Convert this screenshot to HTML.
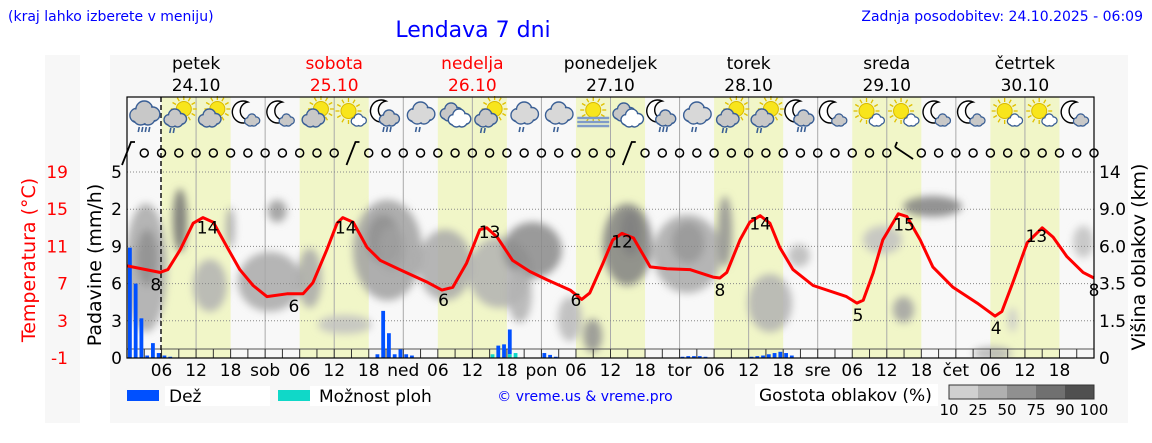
<!DOCTYPE html>
<html><head><meta charset="utf-8"><style>
body{margin:0;background:#fff;width:1152px;height:443px;overflow:hidden;font-family:"Liberation Sans","DejaVu Sans",sans-serif}
svg{position:absolute;left:0;top:0}
text{font-family:"DejaVu Sans","Liberation Sans",sans-serif}
</style></head><body>
<svg id="c" width="1152" height="443" xmlns="http://www.w3.org/2000/svg">
<defs><filter id="bl" x="-50%" y="-50%" width="200%" height="200%"><feGaussianBlur stdDeviation="4"/></filter>
<clipPath id="pc"><rect x="127" y="160" width="967" height="198"/></clipPath></defs>
<rect x="45" y="55" width="35" height="368" fill="#f7f7f7"/>
<rect x="110" y="55" width="1018" height="368" fill="#f7f7f7"/>
<text x="8" y="21" font-size="14" fill="#0000ff" font-family="Liberation Sans">(kraj lahko izberete v meniju)</text>
<text x="473" y="37" font-size="22" fill="#0000ff" text-anchor="middle" font-family="Liberation Sans">Lendava 7 dni</text>
<text x="1143" y="21" font-size="14" fill="#0000ff" text-anchor="end" font-family="Liberation Sans">Zadnja posodobitev: 24.10.2025 - 06:09</text>
<g id="g"></g>
</svg>
<script>
const tempHours=[0,5.7,7.1,9.2,11.5,13.2,15,17.4,19.6,21.9,24.3,27.8,30.6,32.3,34.7,36.5,37.5,39.3,41.7,44,47.4,52,54.7,56.6,59,61.3,62.5,64.3,67,70,73,77,79,80.4,82.7,84.4,86,88,90.9,93.8,97.8,101.8,103,104.2,106.5,108.2,110,111.7,113.4,115.7,119.2,125,126.8,127.9,129.6,131.3,134,135.5,137.8,140,143.5,147.7,150.8,152,153.9,156.4,159,160.9,163.3,166.1,168];
const tempValues=[8.9,8.2,8.5,10.6,13.5,14.1,13.6,10.9,8.5,6.8,5.6,5.9,5.9,7.1,10.6,13.5,14.1,13.6,10.9,9.5,8.5,7.2,6.3,6.6,9.2,12.8,13,12,9.5,8.3,7.4,6.3,5.3,6,9.2,11.7,12.4,11.9,8.8,8.6,8.5,7.7,7.6,8.2,11.7,13.6,14.3,13.5,10.9,8.5,6.8,5.6,4.9,5.2,8.1,11.7,14.5,14.2,11.7,8.8,6.6,4.9,3.5,4,7.1,11.4,13,12,9.9,8.2,7.6];
const tempLabelHours=[5,14,29,38,55,63,78,86,103,110,127,135,151,158,168];
const tempLabelValues=[8,14,6,14,6,13,6,12,8,14,5,15,4,13,8];
const tempLabelDy=[18,16,18,16,16,10,16,14,18,14,18,14,18,14,18];
const rainHours=[0,1,2,3,4,5,6,7,43,44,45,46,47,48,49,63,64,65,66,67,72,73,74,96,97,98,99,100,108,109,110,111,112,113,114,115];
const rainValues=[8.9,6.0,3.2,0.2,1.2,0.4,0.2,0.1,0.3,3.8,2.0,0.3,0.7,0.3,0.2,0,1.0,1.1,2.0,0,0.4,0.25,0.1,0.1,0.15,0.15,0.15,0.1,0.1,0.15,0.2,0.3,0.4,0.5,0.4,0.2];
const showerValues=[0,0,0,0,0,0,0,0,0,0,0,0,0,0,0,0.3,0,0,0.3,0.4,0,0,0,0,0,0,0,0,0,0,0,0,0,0,0,0];
const cloudH0=[0,8.3,11.8,17.5,19.6,24.8,30,33.5,39.6,50.9,59.6,65.7,66.5,75.2,79.6,83,91.7,103,108.2,115.2,135.2,128.2,133.4,147.3,164.7,153.4,2,42,44,86,95];
const cloudH1=[6.6,10.1,17,18.4,30,27.4,33.5,42.2,50.9,59.6,70,75.2,70,78.7,82.2,90.9,103,104.8,115.2,118.3,144.7,134.3,136.4,153.4,167.6,154.3,5,47,48,89,100];
const cloudLo=[0.75,2.9,1.3,3,1.3,3.7,1.4,0.7,1.6,1.6,1.4,2.2,1,0.5,0.2,2,1.8,2.5,0.75,2.5,3.85,2.85,1,0,2.75,0.75,2,2.6,2.4,2.8,2.6];
const cloudHi=[4.1,4.5,2.6,4,2.8,4.2,2.9,1.1,4.2,3.4,3.2,3.6,2.4,1.6,1,4.1,3.8,4.3,2.2,3,4.3,3.5,1.6,0.25,3.5,1.3,3.4,3.8,3.5,3.9,3.6];
const cloudDensity=[0.35,0.7,0.3,0.35,0.35,0.45,0.35,0.2,0.4,0.35,0.3,0.55,0.3,0.25,0.5,0.6,0.35,0.5,0.3,0.25,0.6,0.2,0.4,0.3,0.2,0.15,0.5,0.5,0.4,0.6,0.45];
const iconTypes=['cr','scr','sc','mc','mc','sc','ss','mcr','cl','c','scr','cl','cl','sf','c','mcr','cl','scr','scr','mcr','mc','ss','ss','mc','mc','ss','ss','mc'];
const windBarbHours=[0,39,87,135];
const dayNames=['petek','sobota','nedelja','ponedeljek','torek','sreda','četrtek'];
const dayDates=['24.10','25.10','26.10','27.10','28.10','29.10','30.10'];
const dayColors=['#000','#f00','#f00','#000','#000','#000','#000'];
const dayAbbr=['','sob','ned','pon','tor','sre','čet'];
const tempTicks=[19,15,11,7,3,-1];
const rainTickLabels=['5','2','9','6','3','0'];
const heightTickLabels=['14','9.0','6.0','3.5','1.5','0'];
const legendShades=['#d0d0d0','#b0b0b0','#909090','#707070','#505050'];
const legendLabels=['10','25','50','75','90','100'];

const L=127,R=1094,T=97,B=358;
const X=h=>L+h*(R-L)/168;
const YT=t=>B-(t+1)*(B-172)/20;
const YR=v=>B-v*(B-172)/15;
const YU=u=>B-u*(B-172)/5;
const NS='http://www.w3.org/2000/svg';
const g=document.getElementById('g');
function el(tag,attrs,parent,txt){const e=document.createElementNS(NS,tag);for(const k in attrs)e.setAttribute(k,attrs[k]);if(txt!==undefined)e.textContent=txt;(parent||g).appendChild(e);return e;}

let e=el('rect',{x:L,y:T,width:R-L,height:B-T,fill:'#f8f8f8'});


for(let d=0;d<7;d++){
 e=el('rect',{x:X(d*24+6),y:T,width:X(12)-X(0),height:B-T,fill:'#f1f6c8'});
 
 
}
for(let h=12;h<168;h+=12){
 e=el('line',{x1:X(h),x2:X(h),y1:T,y2:B,stroke:'#aaa','stroke-width':1});
 
 
}
const cg=el('g',{filter:'url(#bl)','clip-path':'url(#pc)'});


for(let i=0;i<cloudH0.length;i++){
 const c=Math.round(225-cloudDensity[i]*160);
 const x0=X(cloudH0[i]),x1=X(cloudH1[i]),y0=YU(cloudHi[i]),y1=YU(cloudLo[i]);
 e=el('ellipse',{cx:(x0+x1)/2,cy:(y0+y1)/2,rx:(x1-x0)/2+2,ry:(y1-y0)/2+2,fill:`rgb(${c},${c},${c})`,'fill-opacity':0.85},cg);
 
 
}
for(let i=0;i<5;i++){
 e=el('line',{x1:L,x2:R,y1:YU(5-i),y2:YU(5-i),stroke:'#888','stroke-width':1,'stroke-dasharray':'1,2'});
 
 
}
el('line',{x1:L,x2:R,y1:349,y2:349,stroke:'#555','stroke-width':1});
for(let i=0;i<rainHours.length;i++){
 const x=X(rainHours[i])+1,w=3.8;
 if(rainValues[i]>0){e=el('rect',{x:x,y:YR(rainValues[i]+showerValues[i]),width:w,height:YR(0)-YR(rainValues[i]),fill:'#0050ff'});
 
 }
 if(showerValues[i]>0){e=el('rect',{x:x,y:YR(showerValues[i]),width:w,height:YR(0)-YR(showerValues[i]),fill:'#10d8c8'});
 
 }
}
for(let h=3;h<168;h+=3){el('line',{x1:X(h),x2:X(h),y1:349,y2:B,stroke:'#333','stroke-width':1});}
e=el('line',{x1:161,x2:161,y1:T,y2:B,stroke:'#222','stroke-width':1.6,'stroke-dasharray':'5,3'});


let p='';tempHours.forEach((h,i)=>{p+=(i?'L':'M')+X(h).toFixed(1)+' '+YT(tempValues[i]).toFixed(1)});
e=el('path',{d:p,fill:'none',stroke:'#f00','stroke-width':3,'stroke-linejoin':'round'});


tempLabelHours.forEach((h,i)=>{
 let j=0,best=1e9;tempHours.forEach((th,k)=>{if(Math.abs(th-h)<best){best=Math.abs(th-h);j=k;}});
 e=el('text',{x:X(h),y:YT(tempValues[j])+tempLabelDy[i],'font-size':17,'text-anchor':'middle',fill:'#000'},g,String(tempLabelValues[i]));
 
 
});
for(let h=3;h<=168;h+=3){
 if(windBarbHours.includes(h))continue;
 e=el('circle',{cx:X(h),cy:153,r:4,fill:'none',stroke:'#000','stroke-width':1.5});
 
 
}
windBarbHours.forEach(h=>{const x=X(h);
 e=el('path',{d:h==135?`M${x-9} ${147}L${x+9} ${159}M${x-9} 147L${x-7} 142`:`M${x-5} 165L${x+4} 142L${x+8} 142`,stroke:'#000','stroke-width':1.8,fill:'none'});
 
 
});
function cloud(gg,cx,cy,s,fill){
 [[-6,2,6],[0,-3,7],[7,1,6],[3,4,6],[-3,4,6]].forEach(a=>el('circle',{cx:cx+a[0]*s,cy:cy+a[1]*s,r:a[2]*s,fill:fill,stroke:'#3a5f95','stroke-width':1.4},gg));
 [[-6,2,5],[0,-3,6],[7,1,5],[3,4,5],[-3,4,5]].forEach(a=>el('circle',{cx:cx+a[0]*s,cy:cy+a[1]*s,r:a[2]*s,fill:fill},gg));
}
function sun(gg,cx,cy){
 for(let a=0;a<12;a++){const t=a*Math.PI/6;el('line',{x1:cx+9*Math.cos(t),y1:cy+9*Math.sin(t),x2:cx+13*Math.cos(t),y2:cy+13*Math.sin(t),stroke:'#e0c000','stroke-width':1.3},gg);}
 el('circle',{cx:cx,cy:cy,r:7.5,fill:'#f8e51c',stroke:'#d8b800'},gg);
}
function moon(gg,cx,cy){el('path',{d:`M${cx+3} ${cy-11}A11 11 0 1 0 ${cx+6} ${cy+7}A9 9 0 1 1 ${cx+3} ${cy-11}Z`,fill:'#fff',stroke:'#000','stroke-width':1.4},gg);}
function rain(gg,cx,cy,n){for(let k=0;k<n;k++)el('line',{x1:cx-4+k*3.5,y1:cy,x2:cx-5+k*3.5,y2:cy+5,stroke:'#3a5f95','stroke-width':1.6},gg);}
iconTypes.forEach((t,k)=>{
 const cx=X(3+6*k),cy=115;
 const gg=el('g',{});
 
 
 if(t=='cr'){cloud(gg,cx,cy-2,1.2,'#c8c8c8');rain(gg,cx-1,cy+12,4);}
 else if(t=='scr'){sun(gg,cx+5,cy-6);cloud(gg,cx-4,cy+3,0.9,'#c8c8c8');rain(gg,cx-4,cy+13,2);}
 else if(t=='sc'){sun(gg,cx+4,cy-6);cloud(gg,cx-4,cy+3,0.9,'#c8c8c8');}
 else if(t=='ss'){sun(gg,cx-3,cy-4);cloud(gg,cx+7,cy+5,0.6,'#fff');}
 else if(t=='mc'){moon(gg,cx-3,cy-2);cloud(gg,cx+4,cy+5,0.6,'#c8c8c8');}
 else if(t=='mcr'){moon(gg,cx-3,cy-3);cloud(gg,cx+3,cy+3,0.8,'#c8c8c8');rain(gg,cx+2,cy+12,3);}
 else if(t=='cl'){cloud(gg,cx,cy-2,1.1,'#d8d8d8');rain(gg,cx,cy+12,2);}
 else if(t=='c'){cloud(gg,cx-4,cy-3,0.9,'#c8c8c8');cloud(gg,cx+4,cy+3,0.9,'#fff');}
 else if(t=='sf'){sun(gg,cx,cy-5);[0,4,8].forEach(d=>el('line',{x1:cx-16,x2:cx+16,y1:cy+3+d,y2:cy+3+d,stroke:'#7f9bc8','stroke-width':2.5},gg));}
});
e=el('rect',{x:L,y:T,width:R-L,height:B-T,fill:'none',stroke:'#000','stroke-width':1.2});


for(let d=0;d<7;d++){
 e=el('text',{x:X(d*24+12),y:69,'font-size':17,'text-anchor':'middle',fill:dayColors[d]},g,dayNames[d]);
 
 
 e=el('text',{x:X(d*24+12),y:91,'font-size':17,'text-anchor':'middle',fill:dayColors[d]},g,dayDates[d]);
 
 
}
for(let h=6;h<168;h+=6){
 const lab=h%24==0?dayAbbr[h/24]:String(h%24).padStart(2,'0');
 e=el('text',{x:X(h),y:376,'font-size':17,'text-anchor':'middle',fill:'#000'},g,lab);
 
 
}
tempTicks.forEach((t,i)=>{e=el('text',{x:68,y:YT(t)+6,'font-size':17,'text-anchor':'end',fill:'#f00'},g,String(t));
 
 });
rainTickLabels.forEach((t,i)=>{e=el('text',{x:122,y:YU(5-i)+6,'font-size':17,'text-anchor':'end',fill:'#000'},g,t);
 
 });
heightTickLabels.forEach((t,i)=>{e=el('text',{x:1099,y:YU(5-i)+6,'font-size':17,fill:'#000'},g,t);
 
 });
e=el('text',{x:0,y:0,'font-size':19,'text-anchor':'middle',fill:'#f00',transform:'translate(35,260) rotate(-90)'},g,'Temperatura (°C)');


e=el('text',{x:0,y:0,'font-size':19,'text-anchor':'middle',fill:'#000',transform:'translate(101,265) rotate(-90)'},g,'Padavine (mm/h)');


e=el('text',{x:0,y:0,'font-size':19,'text-anchor':'middle',fill:'#000',transform:'translate(1145,257) rotate(-90)'},g,'Višina oblakov (km)');


el('rect',{x:127,y:390,width:32,height:11,fill:'#0050ff'});
el('rect',{x:165,y:386,width:105,height:20,fill:'#fff'});
e=el('text',{x:169,y:402,'font-size':17,fill:'#000'},g,'Dež');


el('rect',{x:278,y:390,width:32,height:11,fill:'#10d8c8'});
el('rect',{x:310,y:386,width:120,height:20,fill:'#fff'});
e=el('text',{x:319,y:402,'font-size':17,fill:'#000'},g,'Možnost ploh');


e=el('text',{x:585,y:401,'font-size':14,'text-anchor':'middle',fill:'#0000ff','font-family':'Liberation Sans'},g,'© vreme.us & vreme.pro');


el('rect',{x:755,y:384,width:183,height:22,fill:'#fff'});
e=el('text',{x:759,y:401,'font-size':17,fill:'#000'},g,'Gostota oblakov (%)');


legendShades.forEach((c,i)=>{e=el('rect',{x:949+i*29,y:385,width:29,height:14,fill:c});
 
 });
el('rect',{x:949,y:385,width:145,height:14,fill:'none',stroke:'#333'});
legendLabels.forEach((t,i)=>{e=el('text',{x:949+i*29,y:415,'font-size':15,'text-anchor':'middle',fill:'#000'},g,t);
 
 });
</script>
</body></html>
